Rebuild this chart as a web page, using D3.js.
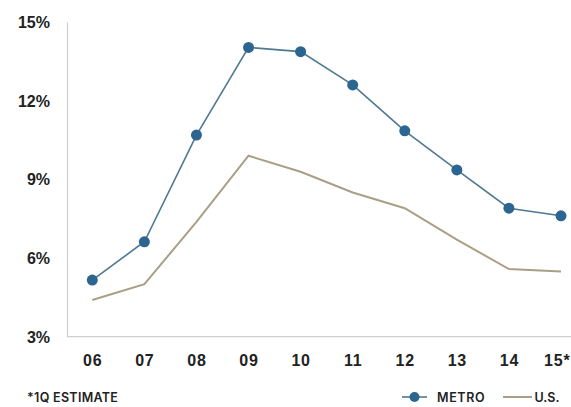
<!DOCTYPE html>
<html>
<head>
<meta charset="utf-8">
<script src="https://cdn.jsdelivr.net/npm/d3@7"></script>
<style>
  html, body { margin: 0; padding: 0; background: #fff; }
  svg { display: block; font-family: Inter, "Open Sans", sans-serif; }
</style>
</head>
<body>
<svg id="chart" width="571" height="407"></svg>
<script>
// Vacancy-style rates by year, metro vs. national
const years = ["06", "07", "08", "09", "10", "11", "12", "13", "14", "15"];
const yearLabels = ["06", "07", "08", "09", "10", "11", "12", "13", "14", "15*"];
const metro = [5.16, 6.62, 10.69, 14.03, 13.87, 12.6, 10.85, 9.36, 7.9, 7.61];
const us = [4.4, 5.0, 7.38, 9.9, 9.29, 8.5, 7.9, 6.7, 5.58, 5.49];
const yTicks = [3, 6, 9, 12, 15];

const metroColor = "#2b6590";
const metroLine = "#4f7893";
const usColor = "#aa9f86";
const axisColor = "#cfcfcf";
const textColor = "#222";

const svg = d3.select("#chart");

const x = d3.scalePoint().domain(years).range([92.3, 561]);
const y = d3.scaleLinear().domain([3, 15]).range([336.7, 22]);

// Left axis with its domain line
const yAxis = svg.append("g")
  .attr("transform", "translate(67,0)")
  .call(d3.axisLeft(y).tickValues(yTicks).tickSize(0).tickPadding(17).tickFormat(d => d + "%"));
yAxis.select(".domain").attr("stroke", axisColor).attr("stroke-width", 1.2);
yAxis.selectAll("text")
  .attr("fill", textColor)
  .style("font-size", "16px")
  .style("font-weight", 600)
  .attr("dy", "0.35em");

// Baseline across the full width
svg.append("line")
  .attr("x1", 67).attr("x2", 571)
  .attr("y1", y(3)).attr("y2", y(3))
  .attr("stroke", axisColor).attr("stroke-width", 1.2);

// Bottom axis labels
const xAxis = svg.append("g")
  .attr("transform", `translate(0,${y(3)})`)
  .call(d3.axisBottom(x).tickSize(0).tickPadding(18).tickFormat((d, i) => yearLabels[i]));
xAxis.select(".domain").remove();
xAxis.selectAll("text")
  .attr("fill", textColor)
  .style("font-size", "16px")
  .style("font-weight", 600)
  .style("letter-spacing", "0.8px");
// last label carries a footnote mark; keep it inside the frame
xAxis.selectAll("text")
  .filter((d, i) => yearLabels[i].endsWith("*"))
  .attr("text-anchor", "end")
  .attr("x", 570 - x(years[years.length - 1]));

const line = d3.line().x((d, i) => x(years[i])).y(d => y(d));

// U.S. series
svg.append("path")
  .datum(us)
  .attr("d", line)
  .attr("fill", "none")
  .attr("stroke", usColor)
  .attr("stroke-width", 2);

// Metro series
svg.append("path")
  .datum(metro)
  .attr("d", line)
  .attr("fill", "none")
  .attr("stroke", metroLine)
  .attr("stroke-width", 1.6);

svg.append("g").selectAll("circle")
  .data(metro)
  .join("circle")
  .attr("cx", (d, i) => x(years[i]))
  .attr("cy", d => y(d))
  .attr("r", 5.5)
  .attr("fill", metroColor);

// Footnote
svg.append("text")
  .attr("x", 27).attr("y", 402)
  .attr("fill", textColor)
  .style("font-size", "12.5px")
  .style("font-weight", 600)
  .style("letter-spacing", "0.3px")
  .text("*1Q ESTIMATE");

// Legend
const lg = svg.append("g");
lg.append("line")
  .attr("x1", 402).attr("x2", 427).attr("y1", 397).attr("y2", 397)
  .attr("stroke", metroLine).attr("stroke-width", 1.6);
lg.append("circle")
  .attr("cx", 414.5).attr("cy", 397).attr("r", 5)
  .attr("fill", metroColor);
lg.append("text")
  .attr("x", 437).attr("y", 402)
  .attr("fill", textColor)
  .style("font-size", "12.5px")
  .style("font-weight", 600)
  .style("letter-spacing", "0.6px")
  .text("METRO");
lg.append("line")
  .attr("x1", 503).attr("x2", 532).attr("y1", 397).attr("y2", 397)
  .attr("stroke", usColor).attr("stroke-width", 2);
lg.append("text")
  .attr("x", 534.5).attr("y", 402)
  .attr("fill", textColor)
  .style("font-size", "12.5px")
  .style("font-weight", 600)
  .text("U.S.");
</script>
</body>
</html>
